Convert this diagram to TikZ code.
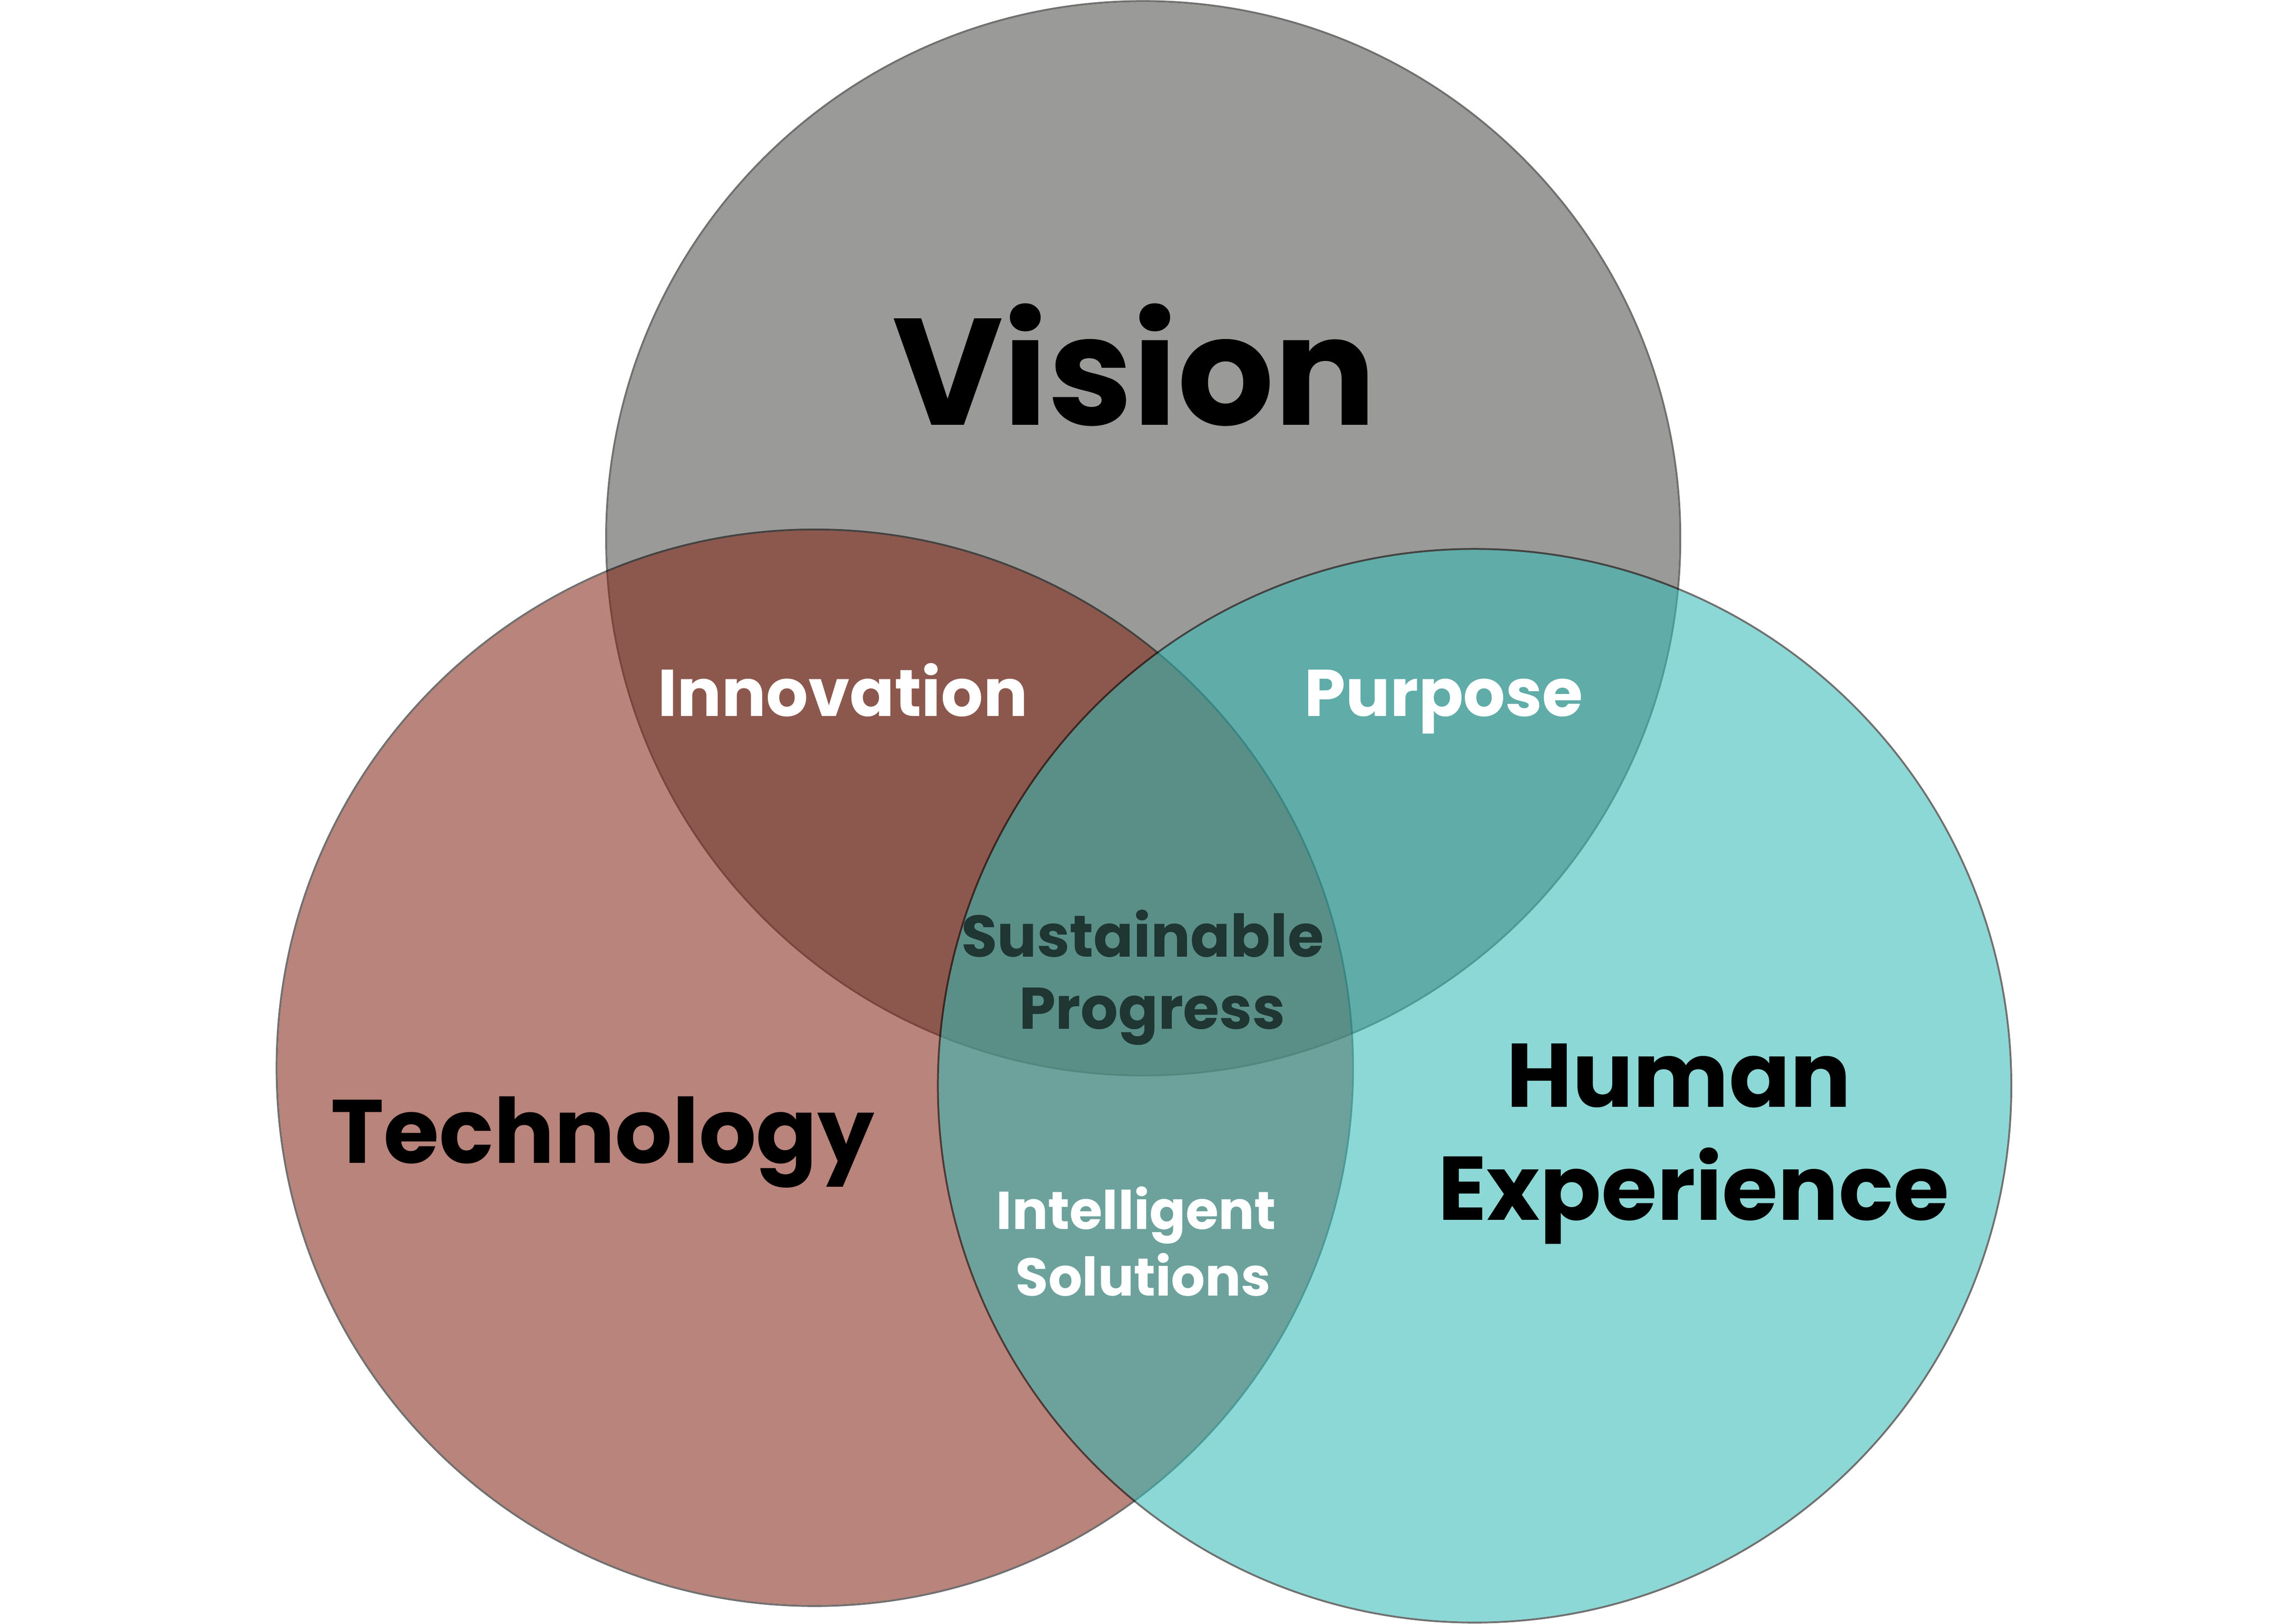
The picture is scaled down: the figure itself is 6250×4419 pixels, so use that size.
\documentclass[tikz,border=0pt]{standalone}
\usepackage{fontspec}
\setmainfont{Poppins}
\definecolor{visfill}{RGB}{76,76,73}
\definecolor{techfill}{RGB}{130,37,21}
\definecolor{humfill}{RGB}{51,187,182}
\definecolor{darktext}{RGB}{31,54,51}
\tikzset{
  venncircle/.style={fill opacity=0.56},
  vennring/.style={fill=black, fill opacity=0.56, even odd rule},
  lbl/.style={anchor=base, inner sep=0pt, font=\bfseries},
}
\newcommand{\fsz}[1]{\fontsize{#1}{#1}\selectfont}
\begin{document}
\begin{tikzpicture}[x=1pt,y=-1pt]
\useasboundingbox (0,0) rectangle (6250,4419);
\fill[white] (0,0) rectangle (6250,4419);
\coordinate (cv) at (3112,1465);
\coordinate (ct) at (2218,2906);
\coordinate (ch) at (4014,2955);
% Vision
\fill[visfill, venncircle] (cv) circle[radius=1459.5];
\fill[vennring] (cv) circle[radius=1464.5] (cv) circle[radius=1459.5];
% Technology
\fill[techfill, venncircle] (ct) circle[radius=1462.5];
\fill[vennring] (ct) circle[radius=1467.5] (ct) circle[radius=1462.5];
% Human Experience
\fill[humfill, venncircle] (ch) circle[radius=1458.5];
\fill[vennring] (ch) circle[radius=1463.5] (ch) circle[radius=1458.5];
% labels
\node[lbl, font=\bfseries\fsz{413}] (vision) at (3088,1157) {Vision};
\node[lbl, font=\bfseries\fsz{245}] (tech) at (1640,3166) {Technology};
\node[lbl, font=\bfseries\fsz{246}] (human) at (4570,3013) {Human};
\node[lbl, font=\bfseries\fsz{246}] (exper) at (4610,3321) {Experience};
\node[lbl, font=\bfseries\fsz{180}, text=white] (innov) at (2294,1949) {Innovation};
\node[lbl, font=\bfseries\fsz{180}, text=white] (purp) at (3930,1949) {Purpose};
\node[lbl, font=\bfseries\fsz{160}, text=darktext] (sust) at (3110,2604) {Sustainable};
\node[lbl, font=\bfseries\fsz{160}, text=darktext] (prog) at (3136,2800) {Progress};
\node[lbl, font=\bfseries\fsz{145}, text=white] (intel) at (3093,3345) {Intelligent};
\node[lbl, font=\bfseries\fsz{145}, text=white] (solut) at (3112,3527) {Solutions};
\end{tikzpicture}
\end{document}
